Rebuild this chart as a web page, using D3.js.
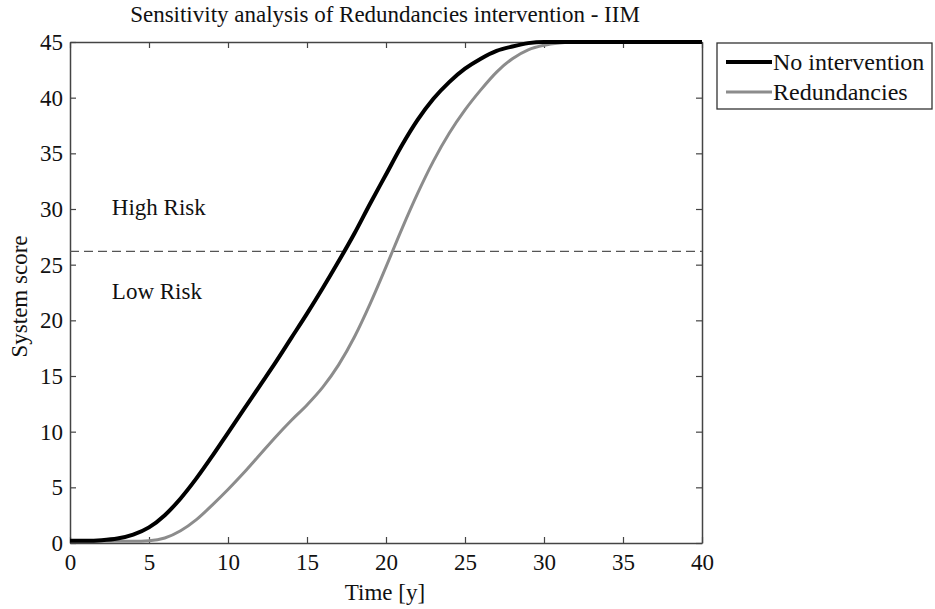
<!DOCTYPE html>
<html><head><meta charset="utf-8">
<script src="https://cdn.jsdelivr.net/npm/d3@7/dist/d3.min.js"></script>
<style>body{margin:0;background:#fff}svg{display:block}text{font-family:"Liberation Serif","Times New Roman",serif;fill:#111}</style>
</head><body><svg id="c" width="935" height="609"></svg>
<script>
const title = "Sensitivity analysis of Redundancies intervention - IIM";
const xLabel = "Time [y]";
const yLabel = "System score";
const xTicks = [0,5,10,15,20,25,30,35,40];
const yTicks = [0,5,10,15,20,25,30,35,40,45];
const threshold = 26.2;
const seriesNames = ["No intervention", "Redundancies"];
const tNo = [0,1,2,3,4,5,6,7,8,9,10,11,12,13,14,15,16,17,18,19,20,21,22,23,24,25,26,27,28,29,30,32,40];
const vNo = [0.2,0.2,0.25,0.4,0.75,1.4,2.5,4.0,5.8,7.8,9.9,12.0,14.1,16.2,18.4,20.6,22.9,25.3,27.8,30.5,33.1,35.7,38.0,39.9,41.4,42.6,43.5,44.2,44.6,44.9,45.0,45.0,45.0];
const tRed = [0,1,2,3,4,5,6,7,8,9,10,11,12,13,14,15,16,17,18,19,20,21,22,23,24,25,26,27,28,29,30,31,32,40];
const vRed = [0.15,0.15,0.15,0.15,0.15,0.2,0.45,1.1,2.1,3.4,4.8,6.3,7.9,9.5,11.0,12.4,14.0,16.0,18.5,21.5,24.8,28.2,31.4,34.3,36.8,38.9,40.7,42.3,43.5,44.3,44.7,44.9,45.0,45.0];

const svg = d3.select("#c");
const m = {l:70, t:42, r:702, b:543};
const x = d3.scaleLinear().domain([0,40]).range([m.l, m.r]);
const y = d3.scaleLinear().domain([0,45]).range([m.b, m.t]);
const axisColor = "#444";

svg.append("text").attr("x", 385).attr("y", 22).attr("text-anchor","middle")
  .style("font-size","23px").text(title);

svg.append("clipPath").attr("id","clip").append("rect")
  .attr("x", m.l).attr("y", m.t-3).attr("width", m.r-m.l).attr("height", m.b-m.t+3);

const gx = svg.append("g").attr("transform",`translate(0,${m.b})`)
  .call(d3.axisBottom(x).tickValues(xTicks).tickSize(-6).tickPadding(11).tickSizeOuter(0));
const gxt = svg.append("g").attr("transform",`translate(0,${m.t})`)
  .call(d3.axisTop(x).tickValues(xTicks).tickSize(-6).tickFormat("").tickSizeOuter(0));
const gy = svg.append("g").attr("transform",`translate(${m.l},0)`)
  .call(d3.axisLeft(y).tickValues(yTicks).tickSize(-6).tickPadding(6).tickSizeOuter(0));
const gyr = svg.append("g").attr("transform",`translate(${m.r},0)`)
  .call(d3.axisRight(y).tickValues(yTicks).tickSize(-6).tickFormat("").tickSizeOuter(0));
[gx,gxt,gy,gyr].forEach(g=>{
  g.select(".domain").attr("stroke",axisColor).attr("stroke-width",1.5);
  g.selectAll(".tick line").attr("stroke",axisColor).attr("stroke-width",1.2);
  g.selectAll(".tick text").style("font-size","23px").attr("fill","#111");
});
gy.selectAll(".tick text").attr("dx","-1");

svg.append("text").attr("transform",`translate(27,${(m.t+m.b)/2 + 4}) rotate(-90)`)
  .attr("text-anchor","middle").style("font-size","23px").text(yLabel);
svg.append("text").attr("x",(m.l+m.r)/2 - 1).attr("y",600).attr("text-anchor","middle")
  .style("font-size","23px").text(xLabel);

svg.append("line").attr("x1",m.l).attr("x2",m.r).attr("y1",y(threshold)).attr("y2",y(threshold))
  .attr("stroke","#555").attr("stroke-width",1.3).attr("stroke-dasharray","9,5");
svg.append("text").attr("x",x(2.65)).attr("y",y(29.5)).style("font-size","23px").text("High Risk");
svg.append("text").attr("x",x(2.65)).attr("y",y(21.9)).style("font-size","23px").text("Low Risk");

const line = d3.line().x(d=>x(d[0])).y(d=>y(d[1])).curve(d3.curveMonotoneX);
const plot = svg.append("g").attr("clip-path","url(#clip)");
plot.append("path").datum(tRed.map((t,i)=>[t,vRed[i]])).attr("d",line)
  .attr("fill","none").attr("stroke","#8c8c8c").attr("stroke-width",3);
plot.append("path").datum(tNo.map((t,i)=>[t,vNo[i]])).attr("d",line)
  .attr("fill","none").attr("stroke","#000").attr("stroke-width",4);

const lg = svg.append("g");
lg.append("rect").attr("x",717).attr("y",43).attr("width",215).attr("height",66)
  .attr("fill","#fff").attr("stroke","#333").attr("stroke-width",1.3);
const cols = ["#000","#8c8c8c"], widths=[4,3];
seriesNames.forEach((n,i)=>{
  const yy = 62 + i*30;
  lg.append("line").attr("x1",726).attr("x2",772).attr("y1",yy).attr("y2",yy)
    .attr("stroke",cols[i]).attr("stroke-width",widths[i]);
  lg.append("text").attr("x",773).attr("y",yy+8).style("font-size","24px").text(n);
});
</script></body></html>
